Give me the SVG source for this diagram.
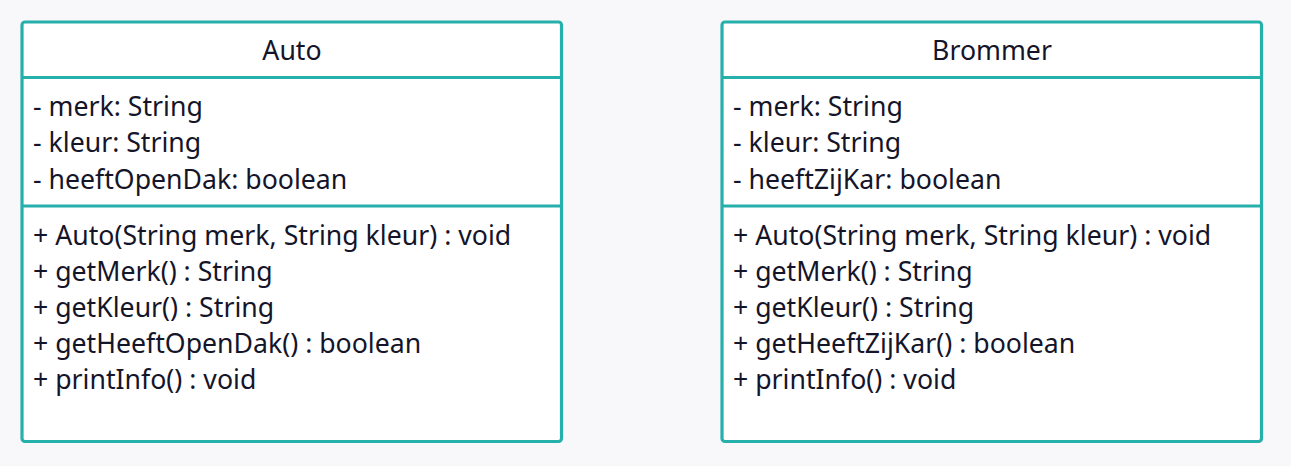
<svg xmlns="http://www.w3.org/2000/svg" width="1291" height="466" viewBox="0 0 1291 466">
<style>
.box{fill:#ffffff;stroke:#26b0ab;stroke-width:3.2}
.div{stroke:#26b0ab;stroke-width:3.2}
text{font-family:"Noto Sans","Open Sans",sans-serif;font-size:26.67px;fill:#15152a}
.t{text-anchor:middle}
</style>
<rect width="1291" height="466" fill="#f8f8fb"/>
<g id="connectors"></g>
<g id="auto">
<rect class="box" x="22" y="22" width="539.5" height="419.5" rx="3"/>
<line class="div" x1="22" y1="77.5" x2="561.5" y2="77.5"/>
<line class="div" x1="22" y1="206" x2="561.5" y2="206"/>
<text class="t" x="292" y="60">Auto</text>
<text x="33" y="116">- merk: String</text>
<text x="33" y="152">- kleur: String</text>
<text x="33" y="188.5">- heeftOpenDak: boolean</text>
<text x="33" y="245">+ Auto(String merk, String kleur) : void</text>
<text x="33" y="281">+ getMerk() : String</text>
<text x="33" y="317">+ getKleur() : String</text>
<text x="33" y="353">+ getHeeftOpenDak() : boolean</text>
<text x="33" y="389">+ printInfo() : void</text>
</g>
<g id="brommer">
<rect class="box" x="722" y="22" width="539.5" height="419.5" rx="3"/>
<line class="div" x1="722" y1="77.5" x2="1261.5" y2="77.5"/>
<line class="div" x1="722" y1="206" x2="1261.5" y2="206"/>
<text class="t" x="992" y="60">Brommer</text>
<text x="733" y="116">- merk: String</text>
<text x="733" y="152">- kleur: String</text>
<text x="733" y="188.5">- heeftZijKar: boolean</text>
<text x="733" y="245">+ Auto(String merk, String kleur) : void</text>
<text x="733" y="281">+ getMerk() : String</text>
<text x="733" y="317">+ getKleur() : String</text>
<text x="733" y="353">+ getHeeftZijKar() : boolean</text>
<text x="733" y="389">+ printInfo() : void</text>
</g>
</svg>
